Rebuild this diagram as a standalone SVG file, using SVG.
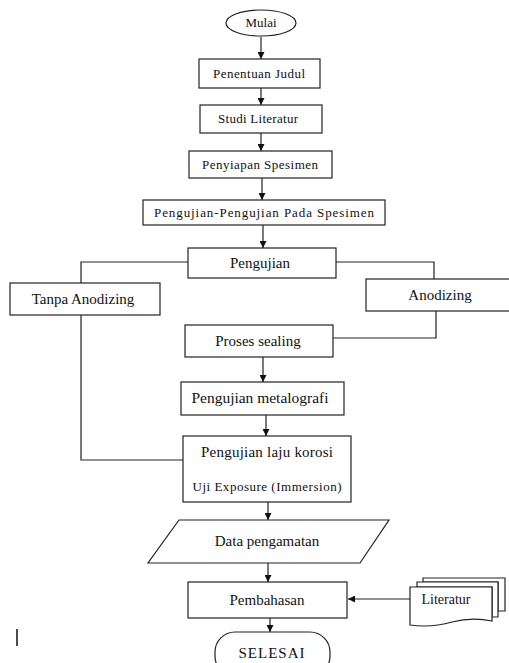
<svg xmlns="http://www.w3.org/2000/svg" width="509" height="663" viewBox="0 0 509 663">
<style>
.n{fill:#fff;stroke:#222;stroke-width:1.2}
.t{fill:#111;text-anchor:middle}
.c{fill:none;stroke:#222;stroke-width:1.2}
</style>
<defs>
<marker id="ah" viewBox="0 0 8 8" refX="8" refY="4" markerWidth="7" markerHeight="7" markerUnits="userSpaceOnUse" orient="auto">
<path d="M0,0 L8,4 L0,8 Z" fill="#111"/>
</marker>
</defs>
<rect width="509" height="663" fill="#fff"/>
<g id="connectors">
<line class="c" x1="261" y1="37" x2="261" y2="59" marker-end="url(#ah)"/>
<line class="c" x1="261" y1="88" x2="261" y2="105" marker-end="url(#ah)"/>
<line class="c" x1="261" y1="133" x2="261" y2="151" marker-end="url(#ah)"/>
<line class="c" x1="262" y1="178" x2="262" y2="200" marker-end="url(#ah)"/>
<line class="c" x1="263" y1="225" x2="263" y2="248" marker-end="url(#ah)"/>
<polyline class="c" points="188,262 81,262 81,283"/>
<polyline class="c" points="336,262 434,262 434,279"/>
<polyline class="c" points="436,311 436,338 333,338"/>
<polyline class="c" points="81,315 81,460 183,460"/>
<line class="c" x1="263" y1="357" x2="263" y2="382" marker-end="url(#ah)"/>
<line class="c" x1="266" y1="415" x2="266" y2="436" marker-end="url(#ah)"/>
<line class="c" x1="268" y1="502" x2="268" y2="520" marker-end="url(#ah)"/>
<line class="c" x1="268" y1="563" x2="268" y2="582" marker-end="url(#ah)"/>
<line class="c" x1="270" y1="618" x2="270" y2="632" marker-end="url(#ah)"/>
<line class="c" x1="410" y1="599" x2="348" y2="599" marker-end="url(#ah)"/>
</g>
<g font-family="Liberation Serif, Times New Roman, DejaVu Serif, serif">
<g id="mulai">
<ellipse class="n" cx="261" cy="23" rx="35" ry="13"/>
<text class="t" x="261" y="27" font-size="13">Mulai</text>
</g>
<g id="penentuan">
<rect class="n" x="199" y="59" width="121" height="29"/>
<text class="t" x="259" y="78" font-size="13" textLength="92" lengthAdjust="spacing">Penentuan Judul</text>
</g>
<g id="studi">
<rect class="n" x="200" y="105" width="122" height="28"/>
<text class="t" x="258" y="123" font-size="13" textLength="80" lengthAdjust="spacing">Studi Literatur</text>
</g>
<g id="penyiapan">
<rect class="n" x="189" y="151" width="143" height="27"/>
<text class="t" x="260" y="169" font-size="13" textLength="116" lengthAdjust="spacing">Penyiapan Spesimen</text>
</g>
<g id="pengujian-pengujian">
<rect class="n" x="143" y="200" width="242" height="25"/>
<text class="t" x="264" y="217" font-size="13" textLength="220" lengthAdjust="spacing">Pengujian-Pengujian Pada Spesimen</text>
</g>
<g id="pengujian">
<rect class="n" x="188" y="248" width="148" height="30"/>
<text class="t" x="260" y="268" font-size="15">Pengujian</text>
</g>
<g id="tanpa-anodizing">
<rect class="n" x="10" y="283" width="150" height="32"/>
<text class="t" x="83" y="304" font-size="15">Tanpa Anodizing</text>
</g>
<g id="anodizing">
<rect class="n" x="366" y="279" width="150" height="32"/>
<text class="t" x="440" y="300" font-size="15">Anodizing</text>
</g>
<g id="proses-sealing">
<rect class="n" x="185" y="325" width="148" height="32"/>
<text class="t" x="258" y="346" font-size="15">Proses sealing</text>
</g>
<g id="metalografi">
<rect class="n" x="181" y="382" width="163" height="33"/>
<text class="t" x="260" y="403" font-size="15" textLength="137" lengthAdjust="spacingAndGlyphs">Pengujian metalografi</text>
</g>
<g id="laju-korosi">
<rect class="n" x="183" y="436" width="168" height="66"/>
<text class="t" x="267" y="457" font-size="15" textLength="132" lengthAdjust="spacing">Pengujian laju korosi</text>
<text class="t" x="267" y="491" font-size="13" textLength="149" lengthAdjust="spacing">Uji Exposure (Immersion)</text>
</g>
<g id="data-pengamatan">
<polygon class="n" points="179,520 389,520 360,563 148,563"/>
<text class="t" x="267" y="546" font-size="15">Data pengamatan</text>
</g>
<g id="pembahasan">
<rect class="n" x="188" y="582" width="159" height="36"/>
<text class="t" x="267" y="605" font-size="15">Pembahasan</text>
</g>
<g id="literatur">
<path class="n" d="M423,578 H505 V611 H498 V582 H423 Z"/>
<path class="n" d="M417,582 H498 V617 H492 V587 H417 Z"/>
<path class="n" d="M410,587 H492 V621 Q472,617 452,622 Q431,628 410,625 Z"/>
<text class="t" x="446" y="604" font-size="14">Literatur</text>
</g>
<g id="selesai">
<rect class="n" x="215" y="632" width="115" height="44" rx="20"/>
<text class="t" x="272" y="658" font-size="15" letter-spacing="1">SELESAI</text>
</g>
</g>
<line x1="17" y1="629" x2="17" y2="646" stroke="#111" stroke-width="1.5"/>
</svg>
